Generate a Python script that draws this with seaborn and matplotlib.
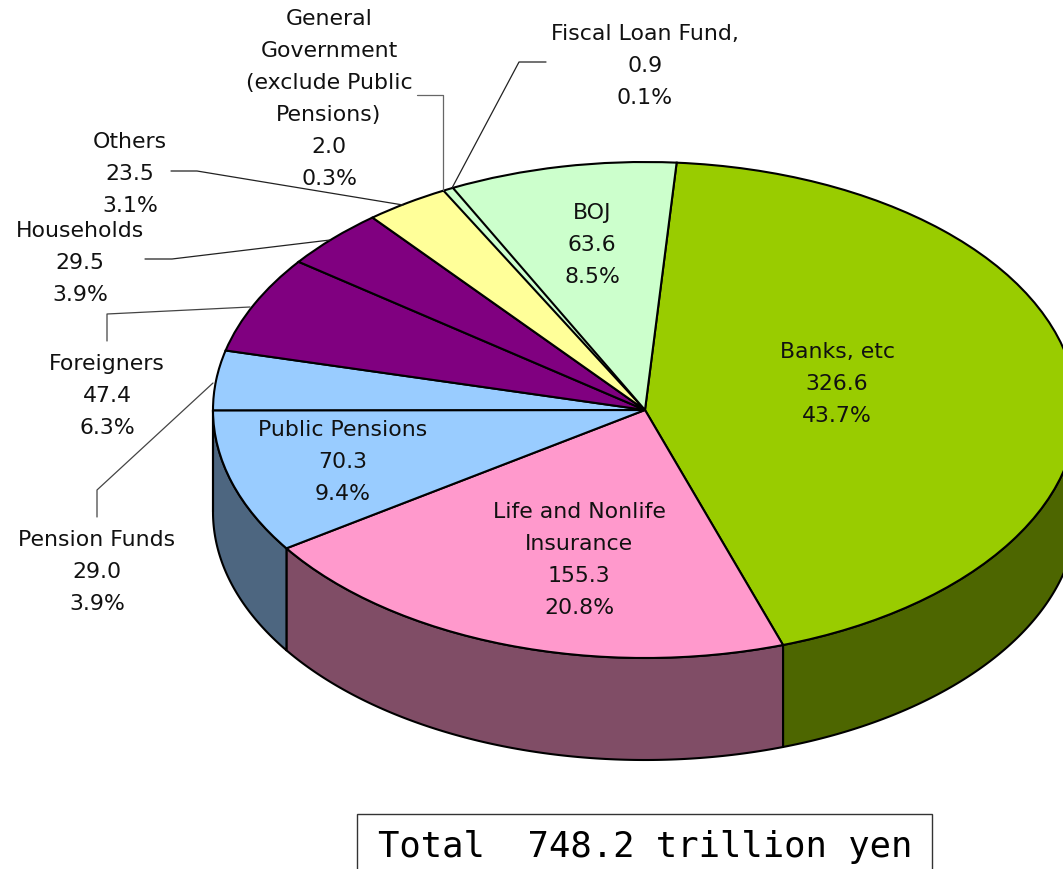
import numpy as np
import matplotlib
matplotlib.use('Agg')
import matplotlib.pyplot as plt
from matplotlib.patches import Rectangle
import seaborn as sns

# trillion yen, clockwise from the top
names = [['Banks, etc'], ['Life and Nonlife', 'Insurance'], ['Public Pensions'],
         ['Pension Funds'], ['Foreigners'], ['Households'], ['Others'],
         ['General', 'Government', '(exclude Public', 'Pensions)'],
         ['Fiscal Loan Fund,'], ['BOJ']]
values = [326.6, 155.3, 70.3, 29.0, 47.4, 29.5, 23.5, 2.0, 0.9, 63.6]
shares = [43.7, 20.8, 9.4, 3.9, 6.3, 3.9, 3.1, 0.3, 0.1, 8.5]
colors = ['#99CC00', '#FF99CC', '#99CCFF', '#99CCFF', '#800080',
          '#800080', '#FFFF99', '#CCFFCC', '#CCFFCC', '#CCFFCC']
side_colors = ['#4D6600', '#804D66', '#4D6680', '#4D6680', '#400040',
               '#400040', '#80804D', '#668066', '#668066', '#668066']
total_label = 'Total  748.2 trillion yen'

# label anchor: centre x, y of first line
label_pos = [(837, 352), (579, 512), (343, 430), (97, 540), (107, 364),
             (80, 231), (130, 142), (329, 19), (645, 34), (592, 213)]

leaders = [
    ([546, 519, 452], [62, 62, 188], '#222222'),
    ([417, 443, 443], [95, 95, 190], '#666666'),
    ([171, 197, 403], [171, 171, 205], '#222222'),
    ([145, 172, 330], [259, 259, 240], '#222222'),
    ([107, 107, 250], [341, 314, 307], '#444444'),
    ([97, 97, 213], [517, 490, 383], '#444444'),
]

W, H = 1063, 869
CX, CY = 645, 410
RX, RY = 432, 248
DEPTH = 102
START = 85.8

sns.set_theme(style='white')
plt.rcParams['font.family'] = ['DejaVu Sans']

fig = plt.figure(figsize=(W / 100, H / 100), dpi=100, facecolor='white')
ax = fig.add_axes([0, 0, 1, 1])


def to_x(px):
    return (np.asarray(px, dtype=float) - CX) / RX


def to_y(py):
    return (CY - np.asarray(py, dtype=float)) / RY


# side wall of the disc, only the part facing the viewer
edges = (90 - START) + np.concatenate([[0], np.cumsum(values)]) / sum(values) * 360
drop = DEPTH / RY
for i, col in enumerate(side_colors):
    a, b = max(edges[i], 90), min(edges[i + 1], 270)
    if a >= b:
        continue
    t = np.radians(np.linspace(a, b, 120))
    xs = np.sin(t)
    ys = np.cos(t)
    ax.fill(np.r_[xs, xs[::-1]], np.r_[ys, ys[::-1] - drop], facecolor=col,
            edgecolor='black', linewidth=1.5, zorder=1, joinstyle='round')

wedges, _ = ax.pie(values, colors=colors, startangle=START, counterclock=False, radius=1,
                   wedgeprops={'edgecolor': 'black', 'linewidth': 1.5, 'zorder': 2})

# the two thin slices read as one sliver with a single pair of lines
wedges[7].set_edgecolor('none')
wedges[8].set_edgecolor('none')
wedges[6].set_zorder(3)
wedges[9].set_zorder(3)
t = np.radians(np.linspace(edges[7], edges[9], 10))
ax.plot(np.sin(t), np.cos(t), color='black', linewidth=1.5, zorder=3)

# the pie is flattened into an ellipse by the axes limits
ax.set_aspect('auto')
ax.set_xlim(to_x(0), to_x(W))
ax.set_ylim(to_y(H), to_y(0))
ax.axis('off')

for name, val, pct, (x, y) in zip(names, values, shares, label_pos):
    lines = name + [f'{val:.1f}', f'{pct:.1f}%']
    for j, line in enumerate(lines):
        ax.text(to_x(x), to_y(y + j * 32), line, ha='center', va='center',
                fontsize=15.8, color='#111111', zorder=5)

for xs, ys, col in leaders:
    ax.plot(to_x(xs), to_y(ys), color=col, linewidth=0.9, zorder=4)

ax.add_patch(Rectangle((to_x(357), to_y(890)), to_x(932) - to_x(357), to_y(814) - to_y(890),
                       facecolor='white', edgecolor='#333333', linewidth=1.0, zorder=4))
ax.text(to_x(645), to_y(847), total_label, ha='center', va='center',
        family='DejaVu Sans Mono', fontsize=25.6, color='black', zorder=5)

fig.savefig('out.png', dpi=100)
